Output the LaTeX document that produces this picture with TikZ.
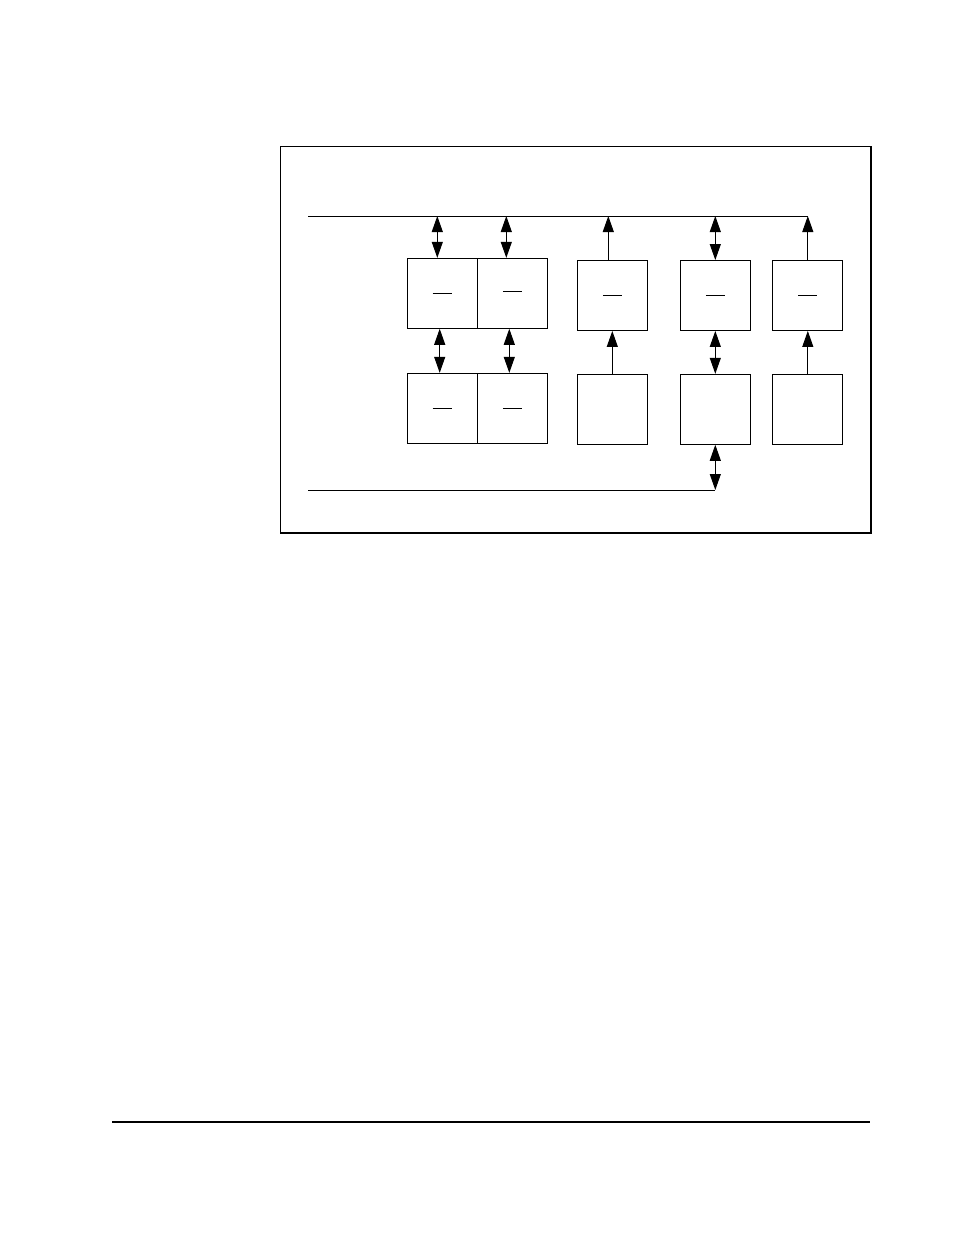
\documentclass[tikz,border=0pt]{standalone}
\usepackage{tikz}
\usetikzlibrary{arrows.meta, positioning, calc}
\newcommand{\namebar}{\rule{19pt}{0.8pt}}

\begin{document}
\begin{tikzpicture}[
        x=1pt, y=-1pt,
        unit/.style={draw, line width=0.9pt, minimum width=70pt, minimum height=70pt, inner sep=0pt},
        bus/.style={line width=1pt},
        uparrow/.style={-{Triangle[length=16pt, width=11pt]}, line width=1pt},
        duplex/.style={{Triangle[length=16pt, width=11pt]}-{Triangle[length=16pt, width=11pt]}, line width=1pt}
    ]
        \useasboundingbox (0,0) rectangle (954,1235);

        % Frame
        \draw[line width=1pt] (280,146) rectangle (871,533);
        \draw[line width=1.5pt] (871,146) -- (871,533);
        \draw[line width=2pt] (280,533) -- (871.75,533);

        % Upper row
        \node[unit] (unitA) at (442,293.3) {\namebar};
        \node[unit] (unitB) at (512.3,293.3) {\raisebox{3pt}{\namebar}};
        \node[unit] (unitC) at (612.3,295.5) {\namebar};
        \node[unit] (unitD) at (715.3,295.5) {\namebar};
        \node[unit] (unitE) at (807.8,295.5) {\namebar};

        % Lower row
        \node[unit] (lowA) at (442,408.3) {\namebar};
        \node[unit] (lowB) at (512.3,408.3) {\namebar};
        \node[unit] (lowC) at (612.3,409.3) {};
        \node[unit] (lowD) at (715.3,409.3) {};
        \node[unit] (lowE) at (807.8,409.3) {};

        % Buses
        \coordinate (topbusL) at (308,216);
        \coordinate (topbusR) at (808,216);
        \coordinate (botbusL) at (308,490);
        \coordinate (botbusR) at (lowD.south |- botbusL);
        \draw[bus] (topbusL) -- (topbusR);
        \draw[bus] (botbusL) -- (botbusR);

        % Upper row to top bus
        \draw[duplex] ([xshift=-4.7pt]unitA.north) -- ([xshift=-4.7pt]unitA.north |- topbusL);
        \draw[duplex] ([xshift=-6pt]unitB.north) -- ([xshift=-6pt]unitB.north |- topbusL);
        \draw[uparrow] ([xshift=-4pt]unitC.north) -- ([xshift=-4pt]unitC.north |- topbusL);
        \draw[duplex] (unitD.north) -- (unitD.north |- topbusL);
        \draw[uparrow] (unitE.north) -- (unitE.north |- topbusL);

        % Lower row to upper row
        \draw[duplex] ([xshift=-2.3pt]lowA.north) -- ([xshift=-2.3pt]unitA.south);
        \draw[duplex] ([xshift=-3pt]lowB.north) -- ([xshift=-3pt]unitB.south);
        \draw[uparrow] (lowC.north) -- (unitC.south);
        \draw[duplex] (lowD.north) -- (unitD.south);
        \draw[uparrow] (lowE.north) -- (unitE.south);

        % Lower row to bottom bus
        \draw[duplex] (lowD.south) -- (botbusR);

        % Footer rule
        \coordinate (ruleL) at (112,1122);
        \coordinate (ruleR) at (870,1122);
        \draw[line width=1.2pt] (ruleL) -- (ruleR);
    \end{tikzpicture}
\end{document}
